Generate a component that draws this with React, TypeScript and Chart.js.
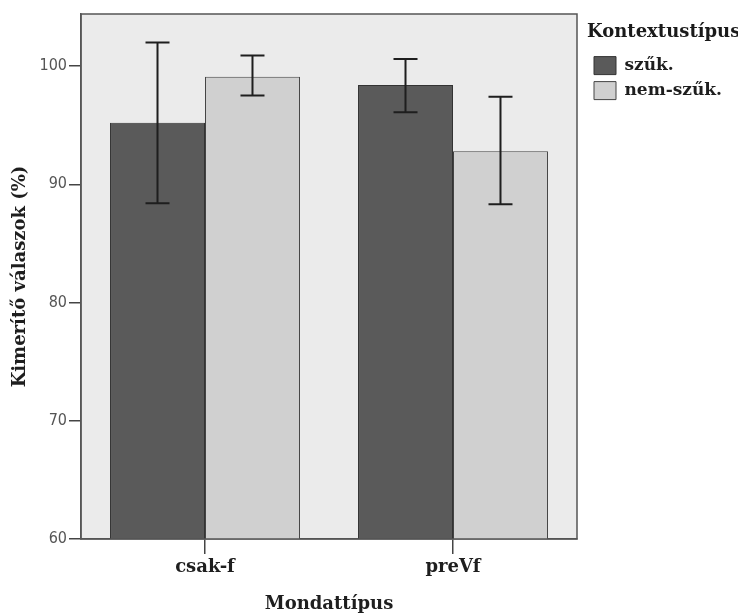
import React, { useEffect, useRef } from "react";
import { Chart, registerables } from "chart.js";

Chart.register(...registerables);

const categories = ["csak-f", "preVf"];
const seriesNames = ["szűk.", "nem-szűk."];
const szukValues = [95.2, 98.4];
const szukLower = [88.4, 96.1];
const szukUpper = [102.0, 100.6];
const nemSzukValues = [99.1, 92.8];
const nemSzukLower = [97.5, 88.3];
const nemSzukUpper = [100.9, 97.4];
const yTicks = [60, 70, 80, 90, 100];
const yMin = 60;
const yMax = 104.4;
const xTitle = "Mondattípus";
const yTitle = "Kimerítő válaszok (%)";
const legendTitle = "Kontextustípus";

const errLower = [szukLower, nemSzukLower];
const errUpper = [szukUpper, nemSzukUpper];

const SERIF = "'DejaVu Serif', 'Liberation Serif', serif";
const NARROW = "'Liberation Sans Narrow', 'DejaVu Sans Condensed', sans-serif";

const plotFrame = {
  id: "plotFrame",
  beforeDraw(chart: any) {
    const { ctx, chartArea: a } = chart;
    ctx.save();
    ctx.fillStyle = "#ffffff";
    ctx.fillRect(0, 0, chart.width, chart.height);
    ctx.fillStyle = "#ebebeb";
    ctx.fillRect(a.left, a.top, a.right - a.left, a.bottom - a.top);
    ctx.restore();
  },
  afterDraw(chart: any) {
    const { ctx, chartArea: a } = chart;
    ctx.save();
    ctx.strokeStyle = "#555555";
    ctx.lineWidth = 1.5;
    ctx.strokeRect(a.left, a.top, a.right - a.left, a.bottom - a.top);
    ctx.restore();
  },
};

const errorBars = {
  id: "errorBars",
  afterDatasetsDraw(chart: any) {
    const { ctx } = chart;
    const y = chart.scales.y;
    ctx.save();
    ctx.strokeStyle = "#1e1e1e";
    ctx.lineWidth = 2;
    chart.data.datasets.forEach((_: any, di: number) => {
      const meta = chart.getDatasetMeta(di);
      meta.data.forEach((bar: any, i: number) => {
        const x = bar.x;
        const yl = y.getPixelForValue(errLower[di][i]);
        const yu = y.getPixelForValue(errUpper[di][i]);
        const cap = 12;
        ctx.beginPath();
        ctx.moveTo(x, yl);
        ctx.lineTo(x, yu);
        ctx.moveTo(x - cap, yu);
        ctx.lineTo(x + cap, yu);
        ctx.moveTo(x - cap, yl);
        ctx.lineTo(x + cap, yl);
        ctx.stroke();
      });
    });
    ctx.restore();
  },
};

const legendShift = {
  id: "legendShift",
  afterLayout(chart: any) {
    const lg = chart.legend;
    if (lg) {
      lg.left += 10;
      lg.right = chart.width;
      lg.width = lg.right - lg.left;
    }
  },
};

export default function App() {
  const ref = useRef<HTMLCanvasElement>(null);

  useEffect(() => {
    if (!ref.current) return;
    const chart = new Chart(ref.current, {
      type: "bar",
      data: {
        labels: categories,
        datasets: [
          {
            label: seriesNames[0],
            data: szukValues,
            backgroundColor: "#5a5a5a",
            borderColor: "#333333",
            borderWidth: 1,
          },
          {
            label: seriesNames[1],
            data: nemSzukValues,
            backgroundColor: "#d0d0d0",
            borderColor: "#444444",
            borderWidth: 1,
          },
        ],
      },
      options: {
        animation: false,
        responsive: false,
        maintainAspectRatio: false,
        devicePixelRatio: 1,
        datasets: {
          bar: { categoryPercentage: 0.766, barPercentage: 1.0 },
        },
        layout: { padding: { top: 14, right: 41, bottom: 0, left: 0 } },
        plugins: {
          tooltip: { enabled: false },
          legend: {
            position: "right",
            align: "start",
            maxWidth: 120,
            title: {
              display: true,
              text: legendTitle,
              position: "start",
              color: "#1a1a1a",
              font: { family: SERIF, size: 18, weight: "bold", lineHeight: 1.2 },
              padding: { top: 9, bottom: 5 },
            },
            labels: {
              boxWidth: 22,
              boxHeight: 18,
              padding: 7,
              color: "#1e1e1e",
              font: { family: SERIF, size: 17, weight: "bold" },
            },
          },
        },
        scales: {
          x: {
            type: "category",
            offset: true,
            grid: {
              offset: false,
              drawOnChartArea: false,
              drawTicks: true,
              tickLength: 15,
              color: "#444444",
              lineWidth: 1.5,
            },
            border: { display: true, color: "#555555", width: 1.5 },
            ticks: {
              color: "#1e1e1e",
              padding: 3,
              font: { family: SERIF, size: 18, weight: "bold", lineHeight: 1.2 },
            },
            title: {
              display: true,
              text: xTitle,
              color: "#1e1e1e",
              font: { family: SERIF, size: 18, weight: "bold", lineHeight: 1 },
              padding: { top: 0, bottom: 0 },
            },
            afterFit(scale: any) {
              scale.height = 74;
            },
          },
          y: {
            type: "linear",
            min: yMin,
            max: yMax,
            grid: {
              drawOnChartArea: false,
              drawTicks: true,
              tickLength: 12,
              color: "#444444",
              lineWidth: 1.5,
            },
            border: { display: true, color: "#555555", width: 1.5 },
            ticks: {
              color: "#555555",
              padding: 2,
              font: { family: NARROW, size: 16 },
            },
            afterBuildTicks(scale: any) {
              scale.ticks = yTicks.map((v) => ({ value: v }));
            },
            title: {
              display: true,
              text: yTitle,
              color: "#1e1e1e",
              font: { family: SERIF, size: 18, weight: "bold", lineHeight: 1 },
              padding: { top: 11, bottom: 0 },
            },
            afterFit(scale: any) {
              scale.width = 81;
            },
          },
        },
      },
      plugins: [plotFrame, errorBars, legendShift],
    });
    return () => chart.destroy();
  }, []);

  return (
    <div style={{ position: "absolute", left: 0, top: 0, width: 738, height: 613 }}>
      <canvas ref={ref} width={738} height={613} style={{ display: "block" }} />
    </div>
  );
}
